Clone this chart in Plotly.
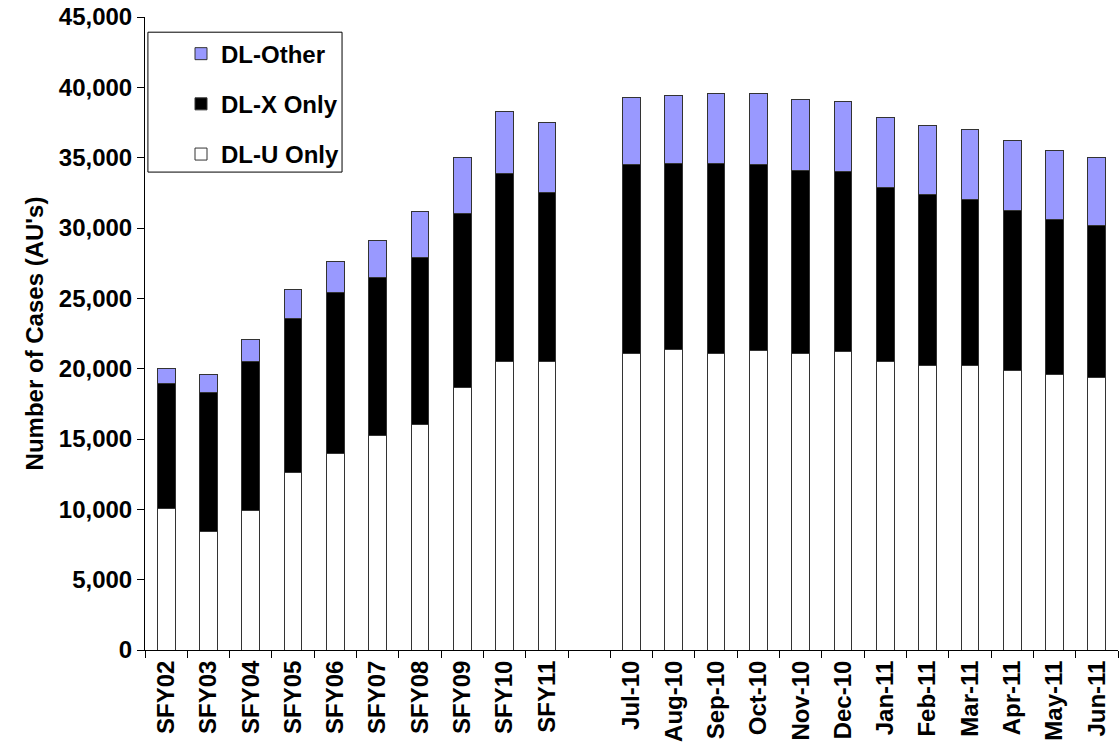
import plotly.graph_objects as go

categories = ["SFY02", "SFY03", "SFY04", "SFY05", "SFY06", "SFY07", "SFY08", "SFY09", "SFY10", "SFY11",
              " ",
              "Jul-10", "Aug-10", "Sep-10", "Oct-10", "Nov-10", "Dec-10",
              "Jan-11", "Feb-11", "Mar-11", "Apr-11", "May-11", "Jun-11"]

# cumulative tops
u_only = [10070, 8460, 9900, 12630, 13980, 15230, 16060, 18690, 20500, 20500,
          None,
          21060, 21390, 21100, 21300, 21100, 21200, 20500, 20230, 20230, 19850, 19600, 19400]
x_top = [18950, 18300, 20500, 23600, 25400, 26500, 27900, 31000, 33900, 32550,
         None,
         34540, 34600, 34600, 34540, 34090, 34000, 32900, 32360, 32000, 31270, 30630, 30200]
totals = [20040, 19570, 22100, 25600, 27650, 29100, 31200, 35000, 38300, 37500,
          None,
          39300, 39400, 39560, 39560, 39100, 39000, 37830, 37300, 37030, 36220, 35490, 35040]

x_only = [None if a is None else b - a for a, b in zip(u_only, x_top)]
other = [None if a is None else b - a for a, b in zip(x_top, totals)]

fig = go.Figure()
line = dict(color="#333333", width=1)
fig.add_trace(go.Bar(x=categories, y=u_only, name="DL-U Only", marker=dict(color="white", line=line),
                     width=0.42, legendgroup="u", legendrank=3))
fig.add_trace(go.Bar(x=categories, y=x_only, name="DL-X Only", marker=dict(color="black", line=line),
                     width=0.42, legendgroup="x", legendrank=2))
fig.add_trace(go.Bar(x=categories, y=other, name="DL-Other", marker=dict(color="#9999FF", line=line),
                     width=0.42, legendgroup="o", legendrank=1))

fig.update_layout(
    width=1120, height=750,
    barmode="stack",
    plot_bgcolor="white", paper_bgcolor="white",
    margin=dict(l=145, r=2, t=17, b=100),
    font=dict(family="Liberation Sans, Arial, sans-serif", color="black", size=24, weight="bold"),
    showlegend=True,
    legend=dict(x=0.037, y=0.977, xanchor="left", yanchor="top",
                borderwidth=0, bgcolor="rgba(0,0,0,0)",
                font=dict(size=24, weight="bold"), traceorder="grouped",
                tracegroupgap=16),
    shapes=[dict(type="rect", xref="paper", yref="paper", x0=0.003, x1=0.2025, y0=0.755, y1=0.976,
                 line=dict(color="black", width=1), fillcolor="rgba(0,0,0,0)", layer="below")],
    xaxis=dict(type="category", categoryorder="array", categoryarray=categories,
               showline=True, linecolor="black", linewidth=1, automargin=False,
               ticks="outside", tickson="boundaries", ticklen=7, tickcolor="black",
               tickangle=-90, tickfont=dict(size=24, weight="bold"), showgrid=False),
    yaxis=dict(range=[0, 45000], tickvals=list(range(0, 45001, 5000)), tickformat=",",
               showline=True, linecolor="black", linewidth=1, automargin=False,
               ticks="outside", ticklen=7, tickcolor="black", showgrid=False, zeroline=False,
               tickfont=dict(size=24, weight="bold"),
               title=dict(text="Number of Cases (AU's)", font=dict(size=24, weight="bold"), standoff=8)),
)

fig.write_html("out.html", config={"displayModeBar": False},
               post_script="document.body.style.margin='0';document.body.style.overflow='hidden';")
